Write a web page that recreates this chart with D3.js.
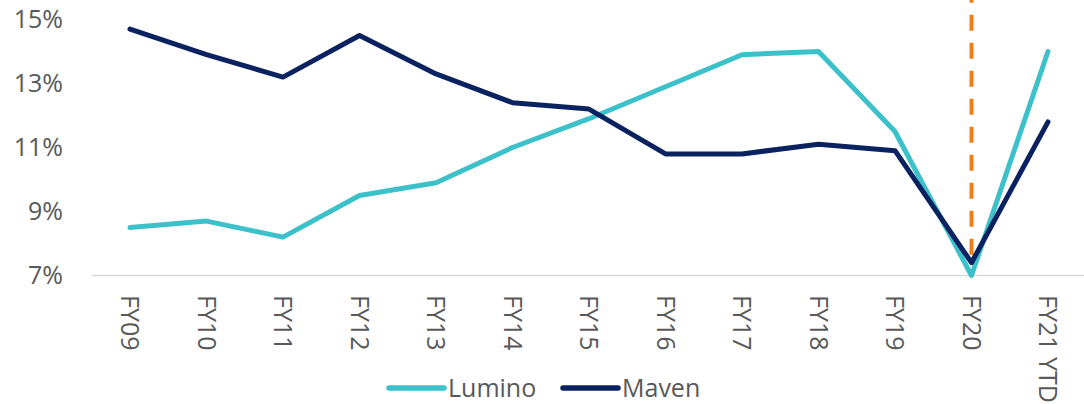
<!DOCTYPE html>
<html>
<head>
<meta charset="utf-8">
<script src="https://cdn.jsdelivr.net/npm/d3@7"></script>
<style>
  html, body { margin: 0; padding: 0; background: #fff; }
  svg { display: block; font-family: "Open Sans", sans-serif; }
</style>
</head>
<body>
<div id="chart"></div>
<script>
const categories = ['FY09', 'FY10', 'FY11', 'FY12', 'FY13', 'FY14', 'FY15', 'FY16', 'FY17', 'FY18', 'FY19', 'FY20', 'FY21 YTD'];
const lumino = [8.5, 8.7, 8.2, 9.5, 9.9, 11.0, 11.9, 12.9, 13.9, 14.0, 11.5, 7.0, 14.0];
const maven = [14.7, 13.9, 13.2, 14.5, 13.3, 12.4, 12.2, 10.8, 10.8, 11.1, 10.9, 7.4, 11.8];
const yTicks = [7, 9, 11, 13, 15];
const markerCategory = 'FY20';

const series = [
  { name: 'Lumino', values: lumino, color: '#3cc1ca' },
  { name: 'Maven', values: maven, color: '#0b2260' }
];

const width = 1084,
    height = 404;

const x = d3.scalePoint()
    .domain(categories)
    .range([91.75, 1086.25])
    .padding(0.5);

const y = d3.scaleLinear()
    .domain([7, 15])
    .range([275.5, 19.5]);

const svg = d3.select('#chart')
    .append('svg')
    .attr('width', width)
    .attr('height', height);

// y labels (no gridlines)
svg.append('g')
    .selectAll('text')
    .data(yTicks)
    .enter()
    .append('text')
    .attr('x', 63)
    .attr('y', d => y(d))
    .attr('dy', '0.35em')
    .attr('text-anchor', 'end')
    .attr('fill', '#595959')
    .style('font-size', '25px')
    .text(d => d + '%');

// x axis line
svg.append('line')
    .attr('x1', 91.75)
    .attr('x2', width)
    .attr('y1', y(7))
    .attr('y2', y(7))
    .attr('stroke', '#d9d9d9')
    .attr('stroke-width', 1.5);

// rotated category labels
svg.append('g')
    .selectAll('text')
    .data(categories)
    .enter()
    .append('text')
    .attr('transform', d => `translate(${x(d)},295) rotate(90)`)
    .attr('dy', '0.35em')
    .attr('text-anchor', 'start')
    .attr('fill', '#595959')
    .style('font-size', '25px')
    .text(d => d);

// dashed marker at FY20
svg.append('line')
    .attr('x1', x(markerCategory))
    .attr('x2', x(markerCategory))
    .attr('y1', 0)
    .attr('y2', 262)
    .attr('stroke', '#f07f1a')
    .attr('stroke-width', 4)
    .attr('stroke-dasharray', '16,12')
    .attr('stroke-dashoffset', 13.3);

const line = d3.line()
    .x((d, i) => x(categories[i]))
    .y(d => y(d));

svg.append('g')
    .selectAll('path')
    .data(series)
    .enter()
    .append('path')
    .attr('d', d => line(d.values))
    .attr('fill', 'none')
    .attr('stroke', d => d.color)
    .attr('stroke-width', 5)
    .attr('stroke-linejoin', 'round')
    .attr('stroke-linecap', 'round');

// legend
const legendPos = [389, 563];
const legend = svg.append('g')
    .selectAll('g')
    .data(series)
    .enter()
    .append('g')
    .attr('transform', (d, i) => `translate(${legendPos[i]},388)`);

legend.append('line')
    .attr('x1', 0)
    .attr('x2', 55)
    .attr('stroke', d => d.color)
    .attr('stroke-width', 5.5)
    .attr('stroke-linecap', 'round');

legend.append('text')
    .attr('x', 59)
    .attr('dy', '0.35em')
    .attr('fill', '#595959')
    .style('font-size', '25px')
    .text(d => d.name);
</script>
</body>
</html>
